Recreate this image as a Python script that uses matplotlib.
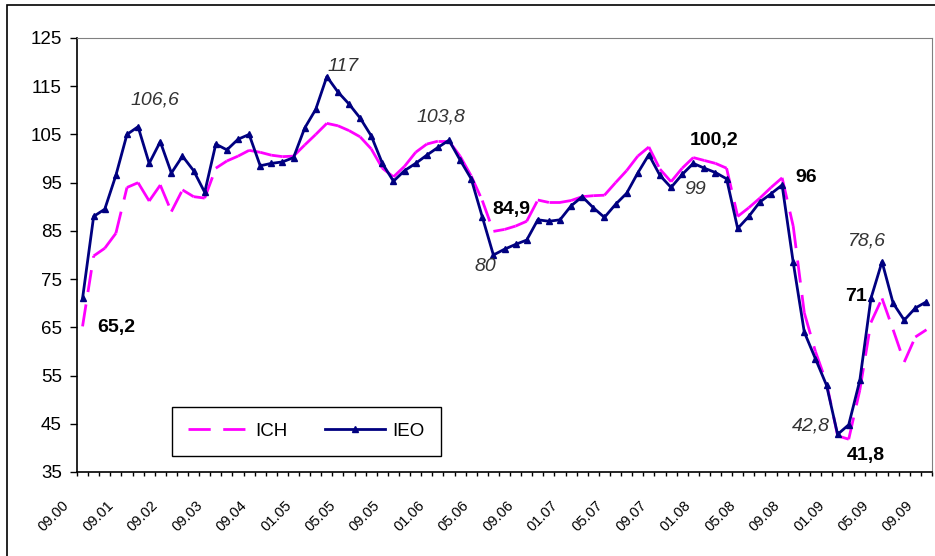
import numpy as np
import matplotlib
matplotlib.use("Agg")
import matplotlib.pyplot as plt
from matplotlib.collections import LineCollection
from matplotlib.lines import Line2D
from matplotlib.patches import Rectangle
from matplotlib.transforms import ScaledTranslation

plt.rcParams['font.family'] = ['Liberation Sans', 'DejaVu Sans']
plt.rcParams['lines.scale_dashes'] = False

labels = ["09.00", "09.01", "09.02", "09.03", "09.04", "01.05", "05.05", "09.05",
          "01.06", "05.06", "09.06", "01.07", "05.07", "09.07", "01.08", "05.08",
          "09.08", "01.09", "05.09", "09.09"]

ich = [65.2, 79.8, 81.4, 84.5, 94, 95, 91.2, 94.5, 89, 93.5,
       92.1, 91.8, 98, 99.5, 100.5, 101.7, 101.3, 100.7, 100.4, 100.5,
       102.8, 105, 107.3, 106.8, 105.8, 104.5, 102, 98, 96.2, 98.4,
       101.3, 103, 103.6, 103.6, 100.5, 96.4, 91.3, 84.9, 85.3, 86,
       87, 91.4, 90.9, 90.9, 91.3, 92.1, 92.3, 92.4, 95, 97.5,
       100.5, 102.4, 97.8, 95.2, 98, 100.2, 99.6, 99, 98, 88,
       89.8, 91.8, 94, 96, 86, 68, 60, 53.5, 42.5, 41.8,
       52, 66, 71, 64.5, 57.8, 63, 64.5]

ieo = [71, 88, 89.5, 96.5, 105, 106.6, 99, 103.5, 97, 100.5,
       97.5, 93, 103, 101.8, 104, 105, 98.5, 99, 99.3, 100.2,
       106.3, 110.2, 117, 113.8, 111.3, 108.4, 104.7, 99, 95.3, 97.5,
       99, 100.7, 102.3, 103.8, 99.7, 95.8, 87.9, 80, 81.2, 82.2,
       83.1, 87.3, 87, 87.3, 90.2, 92.1, 89.8, 87.8, 90.5, 92.8,
       97, 100.8, 96.5, 94, 96.7, 99, 98, 97.1, 95.8, 85.5,
       88, 91, 92.7, 94.5, 78.5, 64, 58.5, 53, 42.8, 44.8,
       54, 71, 78.6, 70, 66.5, 69, 70.3]

# (index, text, offset in points)
ieo_notes = [(5, "106,6", (12, 19)), (22, "117", (12, 7)), (33, "103,8", (-6, 17)),
             (37, "80", (-6, -8)), (55, "99", (1.5, -19)), (72, "78,6", (-11, 15)),
             (68, "42,8", (-19, 6))]
ich_notes = [(0, "65,2", (24, -1)), (37, "84,9", (13, 16)), (55, "100,2", (15, 12)),
             (63, "96", (17, 0)), (72, "71", (-19, 1.5)), (69, "41,8", (12, -11.5))]

magenta = "#FF00FF"
navy = "#000080"

x = np.arange(len(ieo)) + 0.5

fig = plt.figure(figsize=(9.35, 5.56), dpi=100)
ax = fig.add_axes([77 / 935, 84 / 556, 855 / 935, 434 / 556])

# ICH drawn segment by segment so the dash pattern restarts on every step
pts = np.column_stack([x, ich])
segs = np.stack([pts[:-1], pts[1:]], axis=1)
lc = LineCollection(segs, colors=magenta, linewidths=2, linestyles=[(0, (16, 9))],
                    capstyle='butt', zorder=2)
ax.add_collection(lc)

ax.plot(x, ieo, color=navy, lw=2, marker='^', ms=4, zorder=3)

for k, txt, off in ieo_notes:
    ax.annotate(txt, xy=(x[k], ieo[k]), xytext=off, textcoords='offset points',
                ha='center', va='center', fontsize=14, style='italic', color='#333333')
for k, txt, off in ich_notes:
    ax.annotate(txt, xy=(x[k], ich[k]), xytext=off, textcoords='offset points',
                ha='center', va='center', fontsize=14, fontweight='bold', color='black')

ax.set_xlim(0, len(ieo))
ax.set_ylim(35, 125)
ax.set_yticks(range(35, 126, 10))
ax.tick_params(axis='y', length=5, width=1, pad=6, labelsize=13.5)

ax.set_xticks(np.arange(0, len(ieo) + 1), minor=True)
ax.set_xticks(x[::4])
ax.set_xticklabels(labels, rotation=45, ha='right', fontsize=10.5)
ax.tick_params(axis='x', which='major', length=0, pad=19)
ax.tick_params(axis='x', which='minor', length=3, width=1)
shift = ScaledTranslation(-10.5 / 100, 0, fig.dpi_scale_trans)
for lab in ax.get_xticklabels():
    lab.set_transform(lab.get_transform() + shift)

for side in ['top', 'right']:
    ax.spines[side].set_color('#808080')
    ax.spines[side].set_linewidth(0.8)
for side in ['left', 'bottom']:
    ax.spines[side].set_color('black')
    ax.spines[side].set_linewidth(1.2)

handles = [Line2D([], [], color=magenta, lw=2, dashes=(16, 9)),
           Line2D([], [], color=navy, lw=2, marker='^', ms=4)]
leg = ax.legend(handles, ["ICH", "IEO"], ncol=2, loc='lower left',
                bbox_to_anchor=(0.111, 0.037), borderaxespad=0, fancybox=False,
                edgecolor='black', framealpha=1, fontsize=13.5, handlelength=3.2,
                handletextpad=0.4, columnspacing=2.0, borderpad=0.85)
leg.get_frame().set_linewidth(1.0)

# chart area border
fig.add_artist(Rectangle((7 / 935, -0.1), 1.2, 1 - 5 / 556 + 0.1, transform=fig.transFigure,
                         fill=False, edgecolor='black', lw=1.2))

fig.savefig("out.png", dpi=100)
